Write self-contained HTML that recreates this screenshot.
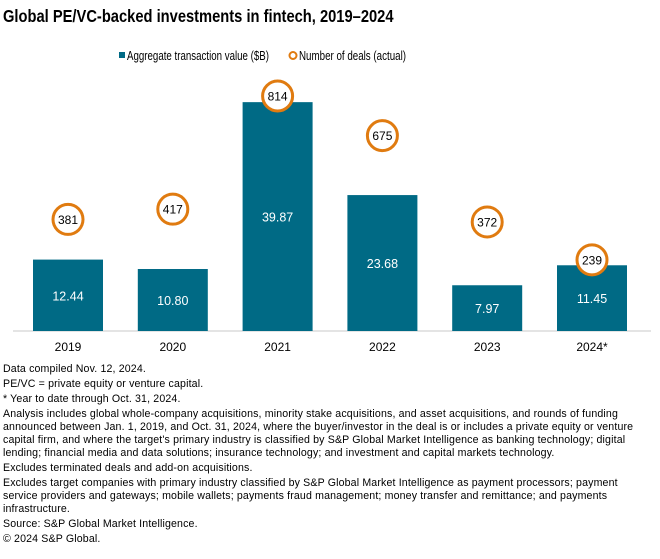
<!DOCTYPE html>
<html><head><meta charset="utf-8"><style>
body{margin:0;width:660px;height:559px;background:#fff;font-family:"Liberation Sans",sans-serif;color:#000;overflow:hidden;position:relative}
#title{position:absolute;left:3px;top:6px;font-size:17.5px;font-weight:bold;transform:scaleX(0.84);transform-origin:0 0;white-space:nowrap}
#notes{position:absolute;left:3px;top:363px;font-size:10.6px;line-height:12.9px;width:680px;white-space:nowrap;letter-spacing:0.15px}
#notes p{margin:0 0 2.2px 0}
</style></head><body>
<div id="title">Global PE/VC-backed investments in fintech, 2019–2024</div>
<svg id="chart" width="660" height="360" style="position:absolute;left:0;top:0"></svg>
<div id="notes">
<p>Data compiled Nov. 12, 2024.</p>
<p>PE/VC = private equity or venture capital.</p>
<p>* Year to date through Oct. 31, 2024.</p>
<p>Analysis includes global whole-company acquisitions, minority stake acquisitions, and asset acquisitions, and rounds of funding<br>announced between Jan. 1, 2019, and Oct. 31, 2024, where the buyer/investor in the deal is or includes a private equity or venture<br>capital firm, and where the target's primary industry is classified by S&amp;P Global Market Intelligence as banking technology; digital<br>lending; financial media and data solutions; insurance technology; and investment and capital markets technology.</p>
<p>Excludes terminated deals and add-on acquisitions.</p>
<p>Excludes target companies with primary industry classified by S&amp;P Global Market Intelligence as payment processors; payment<br>service providers and gateways; mobile wallets; payments fraud management; money transfer and remittance; and payments<br>infrastructure.</p>
<p>Source: S&amp;P Global Market Intelligence.</p>
<p>© 2024 S&amp;P Global.</p>
</div>
<script>
const categories=["2019","2020","2021","2022","2023","2024*"];
const values=[12.44,10.80,39.87,23.68,7.97,11.45];
const valueLabels=["12.44","10.80","39.87","23.68","7.97","11.45"];
const deals=[381,417,814,675,372,239];
const NS="http://www.w3.org/2000/svg";
const svg=document.getElementById("chart");
const baseY=331, pxPerB=5.74;
function xCenter(i){return 68+i*104.8;}
function yVal(v){return baseY-v*pxPerB;}
function yDeal(d){return 328-d*0.285;}
function mk(t,a){const e=document.createElementNS(NS,t);for(const k in a)e.setAttribute(k,a[k]);svg.appendChild(e);return e;}
let e=mk("rect",{x:119,y:52,width:6,height:6,fill:"#006a85"});


e=mk("text",{x:127,y:60,"font-size":"12.5",fill:"#000",textLength:"142",lengthAdjust:"spacingAndGlyphs"});e.textContent="Aggregate transaction value ($B)";


e=mk("circle",{cx:293,cy:55.5,r:3.5,fill:"#fff",stroke:"#e07b10","stroke-width":"2"});


e=mk("text",{x:299,y:60,"font-size":"12.5",fill:"#000",textLength:"107",lengthAdjust:"spacingAndGlyphs"});e.textContent="Number of deals (actual)";


e=mk("line",{x1:13,x2:651,y1:baseY,y2:baseY,stroke:"#c8c8c8","stroke-width":"1"});


categories.forEach((c,i)=>{
  const cx=xCenter(i), top=yVal(values[i]);
  let b=mk("rect",{x:cx-35,y:top,width:70,height:baseY-top,fill:"#006a85"});
  
  
  let t=mk("text",{x:cx,y:(top+baseY)/2+5,"text-anchor":"middle","font-size":"12.5",fill:"#fff"});t.textContent=valueLabels[i];
  
  
  let l=mk("text",{x:cx,y:351,"text-anchor":"middle","font-size":"12",fill:"#000"});l.textContent=c;
  
  
  const cy=yDeal(deals[i]);
  let ci=mk("circle",{cx:cx,cy:cy,r:15,fill:"#fff",stroke:"#e07b10","stroke-width":"3"});
  
  
  let dt=mk("text",{x:cx,y:cy+4.5,"text-anchor":"middle","font-size":"12",fill:"#000"});dt.textContent=deals[i];
  
  
});
</script>
</body></html>
